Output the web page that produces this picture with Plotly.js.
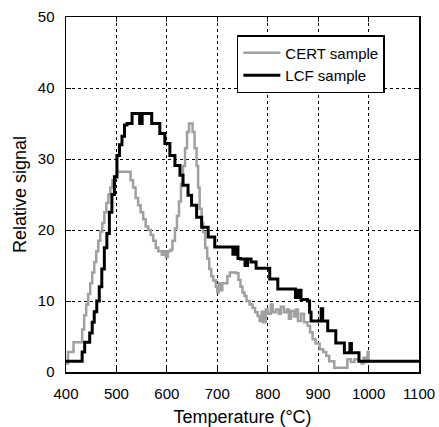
<!DOCTYPE html>
<html>
<head>
<meta charset="utf-8">
<script src="https://cdn.plot.ly/plotly-3.0.1.min.js"></script>
<style>html,body{margin:0;padding:0;background:#fff;}#chart{width:439px;height:427px;}</style>
</head>
<body>
<div id="chart"></div>
<script>
// LCF sample (black, stepped)
const lcfTemp = [400,432,437,447,452,456,461,466,471,476,481,486,491,496,501,506,511,516,521,531,546,551,570,586,596,606,616,626,632,642,649,659,669,682,695,731,736,741,746,755,760,767,777,800,804,820,850,855,860,866,879,883,886,906,909,919,935,952,963,966,981,1100];
const lcfSignal = [1.5,2.8,4.2,5.5,7,8.5,10,12,14.5,17.5,19.5,22.5,25,27.5,30.5,32,33.2,34.8,35,36.4,35,36.4,35,33.6,32.2,30.5,29.1,27.7,26.3,24.9,23.5,21.8,20.4,19,17.6,16.6,17.6,16,15.9,15,15.9,15.5,14.6,14.6,13.1,11.7,11.7,10.5,11.5,10.2,10,8.4,7.2,8.9,7.2,5.8,4.1,2.7,4,2.7,1.5,1.5];

// CERT sample (grey, stepped, noisy)
const certTemp = [400,404,412,415,425,432,436,440,444,448,452,456,460,464,468,472,476,480,484,488,492,497,501,524,528,533,538,543,548,553,558,563,568,573,578,583,590,594,598,602,607,611,616,620,624,628,632,636,640,644,648,651,655,659,662,665,669,672,676,680,684,688,692,697,700,703,706,710,715,720,725,733,738,742,746,750,754,758,764,770,775,780,784,788,791,796,800,806,810,816,822,826,832,838,842,846,852,856,860,866,872,879,884,889,895,903,910,916,922,932,946,955,958,965,972,980,986,990,995,998,1000,1004];
const certSignal = [1.2,2.8,2.8,4.2,4.2,6,8,9.5,11,12.5,14,15.5,17,18.5,19.8,21,22.5,23.8,25,26,27,27.4,28.2,28.2,27,26,24.5,23.5,22.5,21.5,20.5,20,19.3,18.5,17.5,17,16.5,17,16.2,17,17.2,18.5,20.2,22,24,26.5,29,31.5,33.8,35,35,33.8,31.5,29,26,23,21,19.7,17.5,16,14.5,13.5,12.9,12,11.2,12.5,11.5,12.5,12.5,13.5,14,14,13.9,13,12,11.2,10.7,10,9.5,9,8.4,7.9,7.2,8.5,7,8.8,8.2,9.5,8.4,8.8,8.2,9.2,8.4,8.8,7.5,8.6,7.8,8.8,7.2,8.2,7,6.5,5.6,4.6,4,3.2,2.8,2.3,1.5,0.6,0.6,0.6,1.8,1.4,1.8,1.5,1.2,2,1.4,2.8,1.6,1.6];

const xTicks = [400,500,600,700,800,900,1000,1100];
const yTicks = [0,10,20,30,40,50];

const traces = [
  {x: certTemp, y: certSignal, type: 'scatter', mode: 'lines', name: 'CERT sample',
   line: {color: '#a0a0a0', width: 2.5, shape: 'hv'}},
  {x: lcfTemp, y: lcfSignal, type: 'scatter', mode: 'lines', name: 'LCF sample',
   line: {color: '#000000', width: 3, shape: 'hv'}}
];

const font = {family: 'Liberation Sans, Arial, sans-serif', color: '#000'};

const axisCommon = {
  showline: true, linecolor: '#000', linewidth: 1.5, mirror: 'ticks',
  ticks: 'inside', ticklen: 5, tickwidth: 1, tickcolor: '#000',
  showgrid: true, gridcolor: '#000', gridwidth: 1, griddash: 'dot',
  zeroline: false, tickfont: {family: font.family, size: 15, color: '#000'}
};

const layout = {
  width: 439, height: 427,
  margin: {l: 66, r: 20, t: 17, b: 55},
  paper_bgcolor: '#fff', plot_bgcolor: '#fff',
  font: font,
  showlegend: true,
  legend: {x: 0.484, y: 0.949, xanchor: 'left', yanchor: 'top',
           bgcolor: '#fff', bordercolor: '#000', borderwidth: 1.5,
           font: {family: font.family, size: 15, color: '#000'}, itemwidth: 37,
           tracegroupgap: 0},
  xaxis: Object.assign({}, axisCommon, {
    range: [400, 1100], tickvals: xTicks, ticktext: xTicks.map(String),
    ticklabelstandoff: 7,
    title: {text: 'Temperature (°C)', font: {family: font.family, size: 18, color: '#000'}, standoff: 12}
  }),
  yaxis: Object.assign({}, axisCommon, {
    range: [0, 50], tickvals: yTicks, ticktext: yTicks.map(String),
    ticklabelstandoff: 7,
    title: {text: 'Relative signal', font: {family: font.family, size: 18, color: '#000'}, standoff: 6}
  })
};

Plotly.newPlot('chart', traces, layout, {displayModeBar: false, staticPlot: true});
</script>
</body>
</html>
